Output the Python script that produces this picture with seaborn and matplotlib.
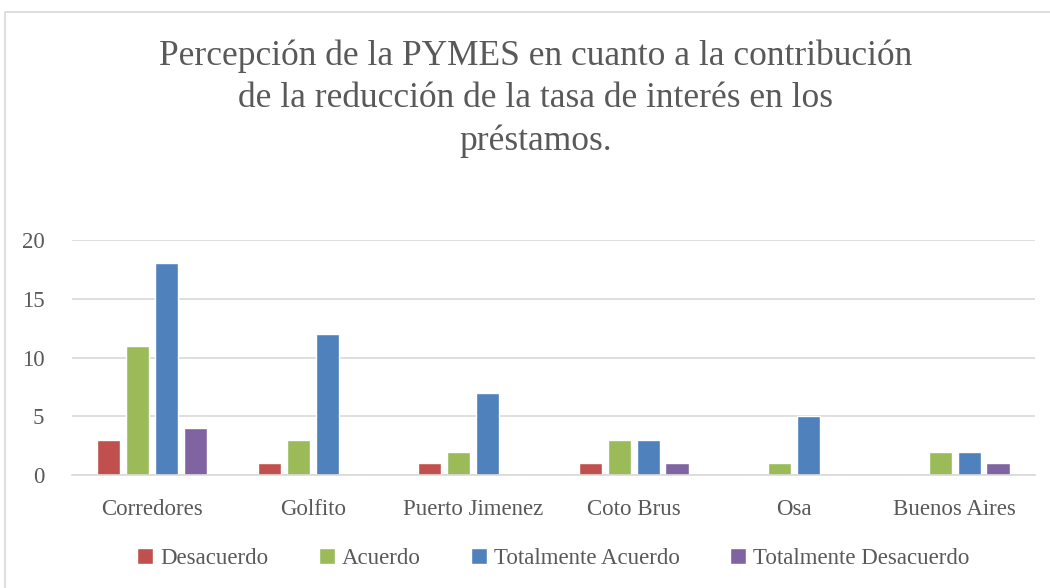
import pandas as pd
import matplotlib.pyplot as plt
import seaborn as sns
from matplotlib.patches import Rectangle

# Data
cantones = ['Corredores', 'Golfito', 'Puerto Jimenez', 'Coto Brus', 'Osa', 'Buenos Aires']
series = ['Desacuerdo', 'Acuerdo', 'Totalmente Acuerdo', 'Totalmente Desacuerdo']
desacuerdo = [3, 1, 1, 1, 0, 0]
acuerdo = [11, 3, 2, 3, 1, 2]
tot_acuerdo = [18, 12, 7, 3, 5, 2]
tot_desacuerdo = [4, 0, 0, 1, 0, 1]
colores = ['#C0504D', '#9BBB59', '#4F81BD', '#8064A2']

# Long format for seaborn
df = pd.DataFrame({
    'Canton': cantones * 4,
    'Serie': [s for s in series for _ in cantones],
    'Valor': desacuerdo + acuerdo + tot_acuerdo + tot_desacuerdo,
})

sns.set_style('white')
plt.rcParams['font.family'] = ['Liberation Serif', 'DejaVu Serif']
texto = '#595959'

fig = plt.figure(figsize=(10.5, 5.88), dpi=100)
ax = fig.add_axes([0.0686, 0.192, 0.917, 0.400])

sns.barplot(data=df, x='Canton', y='Valor', hue='Serie', hue_order=series,
            palette=colores, width=0.72, gap=0.2, ax=ax, legend=True,
            errorbar=None, saturation=1)

ax.set_ylim(0, 20)
ax.set_yticks([0, 5, 10, 15, 20])
ax.yaxis.grid(True, color='#D9D9D9', linewidth=1.2)
ax.set_axisbelow(True)
for side in ['top', 'right', 'left']:
    ax.spines[side].set_visible(False)
ax.spines['bottom'].set_color('#D9D9D9')
ax.spines['bottom'].set_linewidth(1.2)
ax.set_xlabel('')
ax.set_ylabel('')
ax.tick_params(axis='both', length=0, labelsize=16.5, colors=texto)
ax.tick_params(axis='x', pad=17)
ax.tick_params(axis='y', pad=20)

leg = ax.legend(loc='center', bbox_to_anchor=(0.5, -0.355), ncol=4, frameon=False,
                fontsize=16.5, handlelength=0.7, handleheight=0.7,
                handletextpad=0.3, columnspacing=2.2)
for t in leg.get_texts():
    t.set_color(texto)

fig.text(0.51, 0.832,
         'Percepción de la PYMES en cuanto a la contribución\n'
         'de la reducción de la tasa de interés en los\n'
         'préstamos.',
         ha='center', va='center', fontsize=25.5, color=texto, linespacing=1.36)

# chart frame
fig.patches.append(Rectangle((0.005, -0.01), 1.1, 0.99, transform=fig.transFigure,
                             fill=False, edgecolor='#D9D9D9', linewidth=1.2))

fig.savefig('out.png', dpi=100)
